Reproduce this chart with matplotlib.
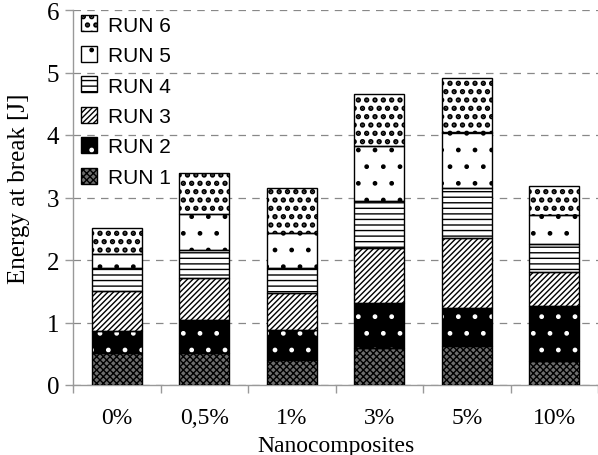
import matplotlib
matplotlib.use("Agg")
import matplotlib.pyplot as plt
import numpy as np

categories = ["0%", "0,5%", "1%", "3%", "5%", "10%"]
run_labels = ["RUN 1", "RUN 2", "RUN 3", "RUN 4", "RUN 5", "RUN 6"]
run1 = [0.52, 0.51, 0.405, 0.587, 0.62, 0.384]
run2 = [0.35, 0.535, 0.48, 0.733, 0.61, 0.876]
run3 = [0.63, 0.665, 0.595, 0.87, 1.12, 0.55]
run4 = [0.37, 0.455, 0.39, 0.76, 0.80, 0.45]
run5 = [0.23, 0.565, 0.56, 0.88, 0.89, 0.46]
run6 = [0.42, 0.66, 0.72, 0.83, 0.87, 0.46]
runs = [run1, run2, run3, run4, run5, run6]

# (facecolor, hatch, hatchcolor, hatch linewidth)
styles = [
    ("#6e6e6e", "xxxxx", "black", 1.0),
    ("black", ".", "white", 1.0),
    ("white", "//////", "black", 1.0),
    ("white", "---", "black", 1.0),
    ("white", ".", "black", 1.0),
    ("white", "..", "black", 2.6),
]

serif = ["Liberation Serif", "DejaVu Serif"]
sans = ["Liberation Sans", "DejaVu Sans"]

fig = plt.figure(figsize=(5.98, 4.56), dpi=100)
ax = fig.add_axes([73/598, 70/456, 525/598, 375/456])

x = np.arange(len(categories))
width = 0.57
bottom = np.zeros(len(categories))
for vals, lab, (fc, h, hc, hlw) in zip(runs, run_labels, styles):
    vals = np.array(vals)
    ax.bar(x, vals, width, bottom=bottom, color=fc, edgecolor="none", zorder=2)
    with plt.rc_context({"hatch.linewidth": hlw}):
        bars = ax.bar(x, vals, width, bottom=bottom, color="none", edgecolor=hc,
                      hatch=h, linewidth=0, zorder=3)
    for p in bars:
        if hasattr(p, "set_hatch_linewidth"):
            p.set_hatch_linewidth(hlw)
    ax.bar(x, vals, width, bottom=bottom, color="none", edgecolor="black",
           linewidth=1.0, zorder=4)
    bottom += vals

from matplotlib.patches import Patch
from matplotlib.legend_handler import HandlerBase
import matplotlib.patches as mpatches

class StackHandler(HandlerBase):
    def __init__(self, fc, h, hc, hlw):
        super().__init__()
        self.fc, self.h, self.hc, self.hlw = fc, h, hc, hlw
    def create_artists(self, legend, orig_handle, xdescent, ydescent, width, height, fontsize, trans):
        s = height * 1.1
        x0 = -xdescent + (width - s) / 2
        y0 = -ydescent + (height - s) / 2
        p1 = mpatches.Rectangle((x0, y0), s, s, facecolor=self.fc, edgecolor="none", transform=trans)
        with plt.rc_context({"hatch.linewidth": self.hlw}):
            p2 = mpatches.Rectangle((x0, y0), s, s, facecolor="none", edgecolor=self.hc,
                                    hatch=self.h, linewidth=0, transform=trans)
        if hasattr(p2, "set_hatch_linewidth"):
            p2.set_hatch_linewidth(self.hlw)
        p3 = mpatches.Rectangle((x0, y0), s, s, facecolor="none", edgecolor="black", linewidth=1.0, transform=trans)
        return [p1, p2, p3]

proxies = []
hmap = {}
for lab, st in zip(run_labels, styles):
    p = Patch(label=lab)
    proxies.append(p)
    hmap[p] = StackHandler(*st)

leg = ax.legend(proxies[::-1], run_labels[::-1], handler_map=hmap, loc="upper left",
                bbox_to_anchor=(-0.025, 1.035), frameon=False,
                prop={"family": sans, "size": 15}, labelspacing=0.55,
                handlelength=1.0, handletextpad=0.4)

ax.set_xlim(-0.5, len(categories) - 0.5)
ax.set_ylim(0, 6)
ax.set_yticks(range(0, 7))
ax.set_yticklabels([str(i) for i in range(0, 7)], family=serif, fontsize=18)
ax.set_xticks(x)
ax.set_xticklabels(categories, family=serif, fontsize=17)
ax.set_xticks(np.arange(-0.5, len(categories)), minor=True)
ax.tick_params(axis="x", which="major", length=0, pad=16)
ax.tick_params(axis="x", which="minor", length=6, color="#999999", width=1)
ax.tick_params(axis="y", length=6, color="#999999", width=1, pad=4)

ax.yaxis.grid(True, linestyle=(0, (6, 5)), color="#888888", linewidth=0.9, zorder=0)
ax.set_axisbelow(True)
for s in ["top", "right"]:
    ax.spines[s].set_visible(False)
for s in ["left", "bottom"]:
    ax.spines[s].set_color("#999999")
    ax.spines[s].set_linewidth(1.0)

ax.set_ylabel("Energy at break [J]", family=serif, fontsize=18)
ax.yaxis.set_label_coords(-0.082, 0.525)
ax.set_xlabel("Nanocomposites", family=serif, fontsize=17, labelpad=5)

fig.savefig("out.png", dpi=100)
